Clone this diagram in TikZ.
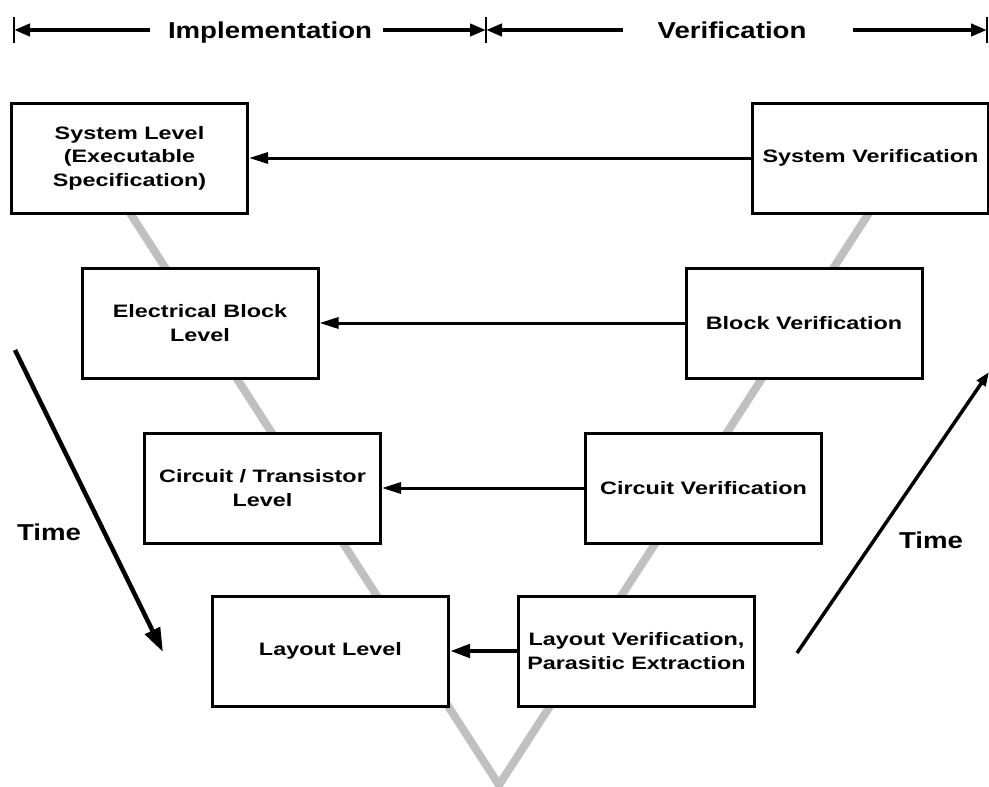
\documentclass[tikz,border=0pt]{standalone}
\usepackage{fontspec}
\usetikzlibrary{arrows.meta}
\newfontfamily\boxfont{Liberation Sans}[FakeStretch=1.3]
\newfontfamily\topfont{Liberation Sans}[FakeStretch=1.2]
\begin{document}
\begin{tikzpicture}[x=1pt,y=-1pt,
  box/.style={draw, line width=3pt, fill=white, minimum width=236pt, minimum height=110pt,
    align=center, inner sep=0pt, font=\boxfont\bfseries\fontsize{18}{23.5}\selectfont},
  conn/.style={line width=3pt, -{Triangle[length=19pt,width=11pt]}},
  connthick/.style={line width=4.5pt, -{Triangle[length=20pt,width=13pt]}},
  vline/.style={line width=8pt, draw={rgb,255:red,192;green,192;blue,192}, line join=miter},
  toplabel/.style={font=\topfont\bfseries\fontsize{23}{27}\selectfont, inner sep=0pt, anchor=base},
  toparrow/.style={line width=4.5pt, -{Triangle[length=16pt,width=12pt]}},
  tickline/.style={line width=2.5pt},
  timearrow/.style={line width=4.5pt, -{Triangle[length=24pt,width=16pt]}},
  timearrowR/.style={line width=3.5pt, -{Triangle[length=14pt,width=10pt]}}
]
\useasboundingbox (0,0) rectangle (989,787);
\clip (0,0) rectangle (989,787);

% gray V
\coordinate (vB) at (499,785);
\draw[vline] (130,213) -- (vB) -- (869,213);

% boxes
\node[box] (SysL) at (129.5,158) {System Level\\(Executable\\Specification)};
\node[box] (SysV) at (870.5,158) {System Verification};
\node[box] (ElecB) at (200,323) {Electrical Block\\Level};
\node[box] (BlockV) at (804,323) {Block Verification};
\node[box] (Circ) at (262.5,488) {Circuit / Transistor\\Level};
\node[box] (CircV) at (703.5,488) {Circuit Verification};
\node[box] (Lay) at (330.5,651) {Layout Level};
\node[box] (LayV) at (636.5,651) {Layout Verification,\\Parasitic Extraction};

% horizontal connectors
\draw[conn] (SysV.west) -- (SysL.east);
\draw[conn] (BlockV.west) -- (ElecB.east);
\draw[conn] (CircV.west) -- (Circ.east);
\draw[connthick] (LayV.west) -- (Lay.east);

% top bar
\coordinate (tL) at (14,30);
\coordinate (tM) at (486,30);
\coordinate (tR) at (987,30);
\coordinate (a1) at (150,30);
\coordinate (a2) at (383,30);
\coordinate (a3) at (623,30);
\coordinate (a4) at (853,30);
\draw[tickline] ([yshift=-13pt]tL) -- ([yshift=13pt]tL);
\draw[tickline] ([yshift=-13pt]tM) -- ([yshift=13pt]tM);
\draw[tickline] ([yshift=-13pt]tR) -- ([yshift=13pt]tR);
\node[toplabel] (impl) at (270,38) {Implementation};
\node[toplabel] (verif) at (732,38) {Verification};
\draw[toparrow] (a1) -- (tL);
\draw[toparrow] (a2) -- (tM);
\draw[toparrow] (a3) -- (tM);
\draw[toparrow] (a4) -- (tR);

% time arrows
\coordinate (tl1) at (15,350);
\coordinate (tl2) at (163,652);
\coordinate (tr1) at (797,653);
\coordinate (tr2) at (989,372);
\draw[timearrow] (tl1) -- (tl2);
\draw[timearrowR] (tr1) -- (tr2);
\node[toplabel] (timeL) at (49,540) {Time};
\node[toplabel] (timeR) at (931,548) {Time};
\end{tikzpicture}
\end{document}
